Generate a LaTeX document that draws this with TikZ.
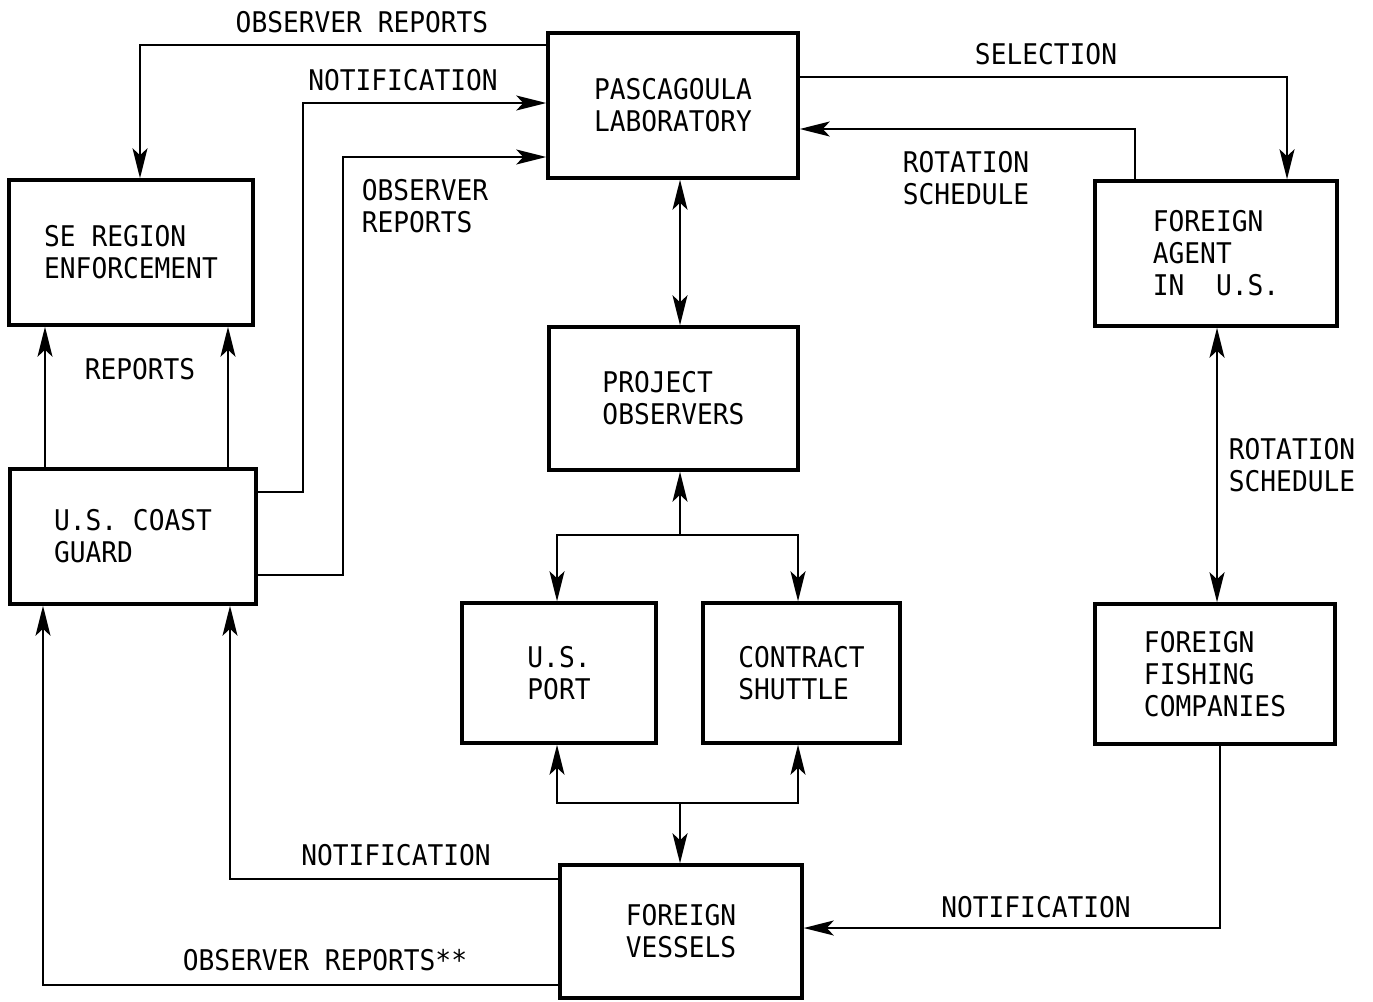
\documentclass[tikz,border=0pt]{standalone}
\usepackage{fontspec}
\newfontfamily\tw{DejaVu Sans Mono}[FakeStretch=0.92]
\usetikzlibrary{arrows.meta}
\begin{document}
\begin{tikzpicture}[x=1pt,y=-1pt,
  font=\tw\fontsize{28.5}{32}\selectfont,
  box/.style={draw,line width=3.5pt,inner sep=0pt,align=left,minimum width=#1},
  conn/.style={line width=2.2pt},
  tip/.style={-{Stealth[length=30pt,width=15pt,inset=7pt]}},
  tips/.style={{Stealth[length=30pt,width=15pt,inset=7pt]}-{Stealth[length=30pt,width=15pt,inset=7pt]}},
  lbl/.style={inner sep=0pt,align=left}]
\useasboundingbox[fill=white] (0,0) rectangle (1373,1001);
% boxes
\node[box=250pt,minimum height=145pt] (pasc) at (673,105.5) {PASCAGOULA\\LABORATORY};
\node[box=244pt,minimum height=145pt] (se) at (131,252.5) {SE REGION\\ENFORCEMENT};
\node[box=242pt,minimum height=145pt] (agent) at (1216,253.5) {FOREIGN\\AGENT\\IN\ \ U.S.};
\node[box=249pt,minimum height=143pt] (obs) at (673.5,398.5) {PROJECT\\OBSERVERS};
\node[box=246pt,minimum height=135pt] (cg) at (133,536.5) {U.S. COAST\\GUARD};
\node[box=194pt,minimum height=140pt] (port) at (559,673) {U.S.\\PORT};
\node[box=197pt,minimum height=140pt] (shuttle) at (801.5,673) {CONTRACT\\SHUTTLE};
\node[box=240pt,minimum height=140pt] (ffc) at (1215,674) {FOREIGN\\FISHING\\COMPANIES};
\node[box=242pt,minimum height=133pt] (fv) at (681,931.5) {FOREIGN\\VESSELS};
% connectors
\draw[conn,tip] (pasc.west |- 0,45) -| (140,0 |- se.north);
\draw[conn,tip] (cg.east |- 0,492) -| (303,300) |- (pasc.west |- 0,103);
\draw[conn,tip] (cg.east |- 0,575) -| (343,300) |- (pasc.west |- 0,157);
\draw[conn,tip] (45,0 |- cg.north) -- (45,0 |- se.south);
\draw[conn,tip] (228,0 |- cg.north) -- (228,0 |- se.south);
\draw[conn,tips] (680,0 |- pasc.south) -- (680,0 |- obs.north);
\draw[conn,tip] (pasc.east |- 0,77) -| (1287,0 |- agent.north);
\draw[conn,tip] (1135,0 |- agent.north) |- (pasc.east |- 0,129);
\draw[conn,tips] (1217,0 |- agent.south) -- (1217,0 |- ffc.north);
\coordinate (split) at (680,535);
\draw[conn,tip] (split) -- (680,0 |- obs.south);
\draw[conn,tips] (557,0 |- port.north) |- (798,535) -- (798,0 |- shuttle.north);
\coordinate (join) at (680,803);
\draw[conn,tips] (557,0 |- port.south) |- (798,803) -- (798,0 |- shuttle.south);
\draw[conn,tip] (join) -- (680,0 |- fv.north);
\draw[conn,tip] (fv.west |- 0,879) -| (230,0 |- cg.south);
\draw[conn,tip] (fv.west |- 0,985) -| (43,0 |- cg.south);
\draw[conn,tip] (1220,0 |- ffc.south) |- (fv.east |- 0,928);
% labels
\node[lbl] (l1) at (362,22) {OBSERVER REPORTS};
\node[lbl] (l2) at (403,80) {NOTIFICATION};
\node[lbl] (l3) at (425,206) {OBSERVER\\REPORTS};
\node[lbl] (l4) at (140,369) {REPORTS};
\node[lbl] (l5) at (1046,54) {SELECTION};
\node[lbl] (l6) at (966,178) {ROTATION\\SCHEDULE};
\node[lbl] (l7) at (1292,465) {ROTATION\\SCHEDULE};
\node[lbl] (l8) at (396,855) {NOTIFICATION};
\node[lbl] (l9) at (325,960) {OBSERVER REPORTS**};
\node[lbl] (l10) at (1036,907) {NOTIFICATION};
\end{tikzpicture}
\end{document}
